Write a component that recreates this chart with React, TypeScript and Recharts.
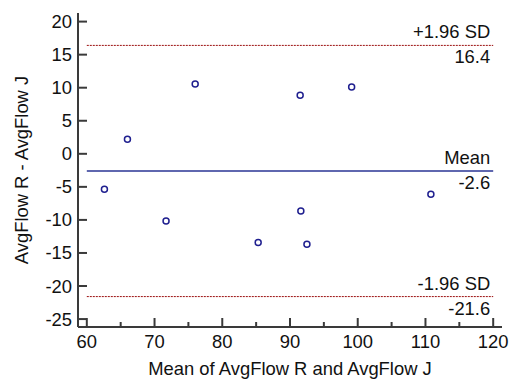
import { ScatterChart, Scatter, XAxis, YAxis, ReferenceLine } from 'recharts';

// Bland-Altman data
const meanValues = [62.6, 66.0, 71.7, 76.0, 85.3, 91.5, 91.6, 92.5, 99.1, 110.8];
const diffValues = [-5.35, 2.2, -10.15, 10.55, -13.4, 8.84, -8.64, -13.7, 10.1, -6.1];

const meanDiff = -2.6;
const upperLimit = 16.4;
const lowerLimit = -21.6;

const xTicks = [60, 65, 70, 75, 80, 85, 90, 95, 100, 105, 110, 115, 120];
const yTicks = [-25, -20, -15, -10, -5, 0, 5, 10, 15, 20];

const FONT = '"Liberation Sans", Arial, sans-serif';
const FS = 18.4;
const AXIS_COLOR = '#3a3a3a';
const POINT_COLOR = '#1f1f8f';
const MEAN_COLOR = '#2a3595';
const SD_COLOR = '#9b0f0f';

const XTick = ({ x, y, payload }: any) => {
  const major = payload.value % 10 === 0;
  return (
    <g>
      <line x1={x} x2={x} y1={y} y2={y - (major ? 9 : 5)} stroke={AXIS_COLOR} strokeWidth={2} />
      {major && (
        <text x={x} y={y + 21} textAnchor="middle" fontSize={FS} fontFamily={FONT} fill="#111">
          {payload.value}
        </text>
      )}
    </g>
  );
};

const YTick = ({ x, y, payload }: any) => (
  <g>
    <line x1={x} x2={x + 9} y1={y} y2={y} stroke={AXIS_COLOR} strokeWidth={2} />
    <text x={x - 6} y={y + 6.5} textAnchor="end" fontSize={FS} fontFamily={FONT} fill="#111">
      {payload.value}
    </text>
  </g>
);

const lineLabel = (top: string, bottom: string) => ({ viewBox }: any) => {
  const right = viewBox.x + viewBox.width - 3;
  return (
    <g fontFamily={FONT} fontSize={FS} fill="#111">
      <text x={right} y={viewBox.y - 7} textAnchor="end">{top}</text>
      <text x={right} y={viewBox.y + 18} textAnchor="end">{bottom}</text>
    </g>
  );
};

export default function App() {
  const data = meanValues.map((m, i) => ({ x: m, y: diffValues[i] }));

  return (
    <div>
      <style>{`body{margin:0}`}</style>
      <ScatterChart width={518} height={390} margin={{ top: 13, right: 16, bottom: 0, left: 0 }}>
        <XAxis
          type="number"
          dataKey="x"
          domain={[58.7, 121.3]}
          ticks={xTicks}
          interval={0}
          tickSize={0}
          tickMargin={0}
          tick={<XTick />}
          height={63}
          axisLine={{ stroke: AXIS_COLOR, strokeWidth: 2 }}
          label={{
            content: ({ viewBox }: any) => (
              <text
                x={viewBox.x + viewBox.width / 2}
                y={viewBox.y + 48}
                textAnchor="middle"
                fontSize={FS}
                fontFamily={FONT}
                fill="#111"
              >
                Mean of AvgFlow R and AvgFlow J
              </text>
            ),
          }}
        />
        <YAxis
          type="number"
          dataKey="y"
          domain={[-26.2, 21.3]}
          ticks={yTicks}
          interval={0}
          tickSize={0}
          tickMargin={0}
          tick={<YTick />}
          width={78}
          axisLine={{ stroke: AXIS_COLOR, strokeWidth: 2 }}
          label={{
            content: ({ viewBox }: any) => {
              const cx = 28;
              const cy = viewBox.y + viewBox.height / 2;
              return (
                <text
                  x={cx}
                  y={cy}
                  transform={`rotate(-90 ${cx} ${cy})`}
                  textAnchor="middle"
                  fontSize={FS}
                  fontFamily={FONT}
                  fill="#111"
                >
                  AvgFlow R - AvgFlow J
                </text>
              );
            },
          }}
        />
        <ReferenceLine
          segment={[{ x: 60, y: upperLimit }, { x: 120, y: upperLimit }]}
          stroke={SD_COLOR}
          strokeWidth={1}
          strokeDasharray="2 1"
          label={{ content: lineLabel('+1.96 SD', upperLimit.toFixed(1)) }}
        />
        <ReferenceLine
          segment={[{ x: 60, y: meanDiff }, { x: 120, y: meanDiff }]}
          stroke={MEAN_COLOR}
          strokeWidth={1.5}
          label={{ content: lineLabel('Mean', meanDiff.toFixed(1)) }}
        />
        <ReferenceLine
          segment={[{ x: 60, y: lowerLimit }, { x: 120, y: lowerLimit }]}
          stroke={SD_COLOR}
          strokeWidth={1}
          strokeDasharray="2 1"
          label={{ content: lineLabel('-1.96 SD', lowerLimit.toFixed(1)) }}
        />
        <Scatter
          data={data}
          isAnimationActive={false}
          shape={(p: any) => (
            <circle cx={p.cx} cy={p.cy} r={3} fill="#fff" stroke={POINT_COLOR} strokeWidth={1.5} />
          )}
        />
      </ScatterChart>
    </div>
  );
}
